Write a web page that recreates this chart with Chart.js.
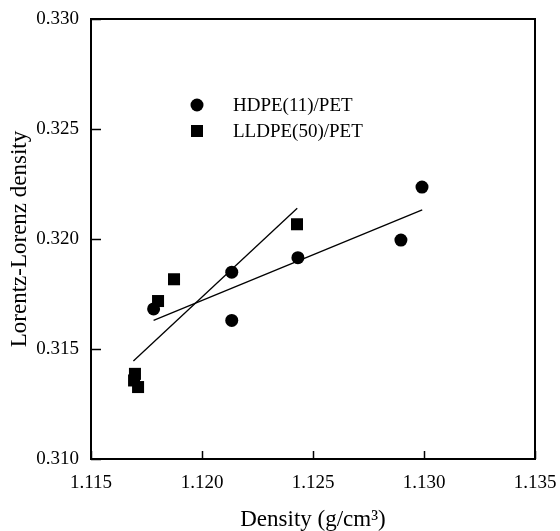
<!DOCTYPE html>
<html>
<head>
<meta charset="utf-8">
<script src="https://cdn.jsdelivr.net/npm/chart.js@4.4.0/dist/chart.umd.min.js"></script>
<style>
  html, body { margin: 0; padding: 0; background: #fff; }
  #wrap { width: 560px; height: 531px; position: relative; }
</style>
</head>
<body>
<div id="wrap"><canvas id="lineChart"></canvas></div>
<script>
'use strict';

// data
let hdpe_x = [1.11782, 1.12134, 1.12134, 1.12432, 1.12896, 1.12991]
let hdpe_y = [0.31682, 0.31849, 0.31630, 0.31915, 0.31995, 0.32236]
let lldpe_x = [1.11698, 1.11694, 1.11712, 1.11802, 1.11874, 1.12428]
let lldpe_y = [0.31387, 0.31357, 0.31327, 0.31718, 0.31817, 0.32067]
// fitted lines (end points)
let hdpe_fit_x = [1.11782, 1.12992]
let hdpe_fit_y = [0.31630, 0.32132]
let lldpe_fit_x = [1.11691, 1.12429]
let lldpe_fit_y = [0.31445, 0.32140]

let x_ticks = [1.115, 1.120, 1.125, 1.130, 1.135]
let y_ticks = [0.310, 0.315, 0.320, 0.325, 0.330]
let legend_labels = ['HDPE(11)/PET', 'LLDPE(50)/PET']

const serif = "'Liberation Serif', 'Times New Roman', serif"

function pts(xs, ys) {
    let out = []
    for (let i = 0; i < xs.length; i++) out.push({x: xs[i], y: ys[i]})
    return out
}

// box, inward ticks and legend
const framePlugin = {
    id: 'frame',
    afterDraw(chart) {
        const ctx = chart.ctx
        const a = chart.chartArea
        const xs = chart.scales.x
        const ys = chart.scales.y
        ctx.save()
        ctx.strokeStyle = '#000'
        ctx.lineWidth = 1.5
        for (let v of x_ticks) {
            let p = Math.round(xs.getPixelForValue(v)) + 0.5
            ctx.beginPath(); ctx.moveTo(p, a.bottom); ctx.lineTo(p, a.bottom - 8); ctx.stroke()
        }
        for (let v of y_ticks) {
            let p = Math.round(ys.getPixelForValue(v)) + 0.5
            ctx.beginPath(); ctx.moveTo(a.left, p); ctx.lineTo(a.left + 10, p); ctx.stroke()
        }
        ctx.lineWidth = 2
        ctx.strokeRect(a.left, a.top, a.right - a.left, a.bottom - a.top)

        // legend
        ctx.fillStyle = '#000'
        ctx.beginPath(); ctx.arc(197, 105, 6.5, 0, Math.PI * 2); ctx.fill()
        ctx.fillRect(191, 125, 12, 12)
        ctx.font = '19px ' + serif
        ctx.textAlign = 'left'
        ctx.textBaseline = 'middle'
        ctx.fillText(legend_labels[0], 233, 106)
        ctx.fillText(legend_labels[1], 233, 132)
        ctx.restore()
    }
}

let data_1 = {
    datasets: [
        {
            label: legend_labels[0],
            data: pts(hdpe_x, hdpe_y),
            showLine: false,
            pointStyle: 'circle',
            pointRadius: 6.5,
            backgroundColor: '#000',
            borderColor: '#000',
            borderWidth: 0
        },
        {
            label: legend_labels[1],
            data: pts(lldpe_x, lldpe_y),
            showLine: false,
            pointStyle: 'rect',
            pointRadius: 8.5,
            backgroundColor: '#000',
            borderColor: '#000',
            borderWidth: 0
        },
        {
            data: pts(hdpe_fit_x, hdpe_fit_y),
            showLine: true,
            pointRadius: 0,
            borderColor: '#000',
            borderWidth: 1.3
        },
        {
            data: pts(lldpe_fit_x, lldpe_fit_y),
            showLine: true,
            pointRadius: 0,
            borderColor: '#000',
            borderWidth: 1.3
        }
    ]
}

let options = {
    responsive: true,
    maintainAspectRatio: false,
    animation: false,
    layout: { padding: { left: 0, right: 25, top: 19, bottom: 0 } },
    plugins: {
        legend: { display: false },
        tooltip: { enabled: false }
    },
    scales: {
        x: {
            type: 'linear',
            min: 1.115,
            max: 1.135,
            afterBuildTicks: function (s) { s.ticks = x_ticks.map(v => ({value: v})) },
            afterFit: function (s) { s.height = 72; s.paddingLeft = 0; s.paddingRight = 0 },
            grid: { display: false, drawTicks: false },
            border: { display: false },
            ticks: {
                color: '#000',
                padding: 13,
                font: { family: serif, size: 19 },
                callback: v => v.toFixed(3)
            },
            title: {
                display: true,
                text: 'Density (g/cm³)',
                color: '#000',
                font: { family: serif, size: 23, lineHeight: 1 },
                padding: { top: 0, bottom: 0 }
            }
        },
        y: {
            type: 'linear',
            min: 0.310,
            max: 0.330,
            afterBuildTicks: function (s) { s.ticks = y_ticks.map(v => ({value: v})) },
            afterFit: function (s) { s.width = 91; s.paddingTop = 0; s.paddingBottom = 0 },
            grid: { display: false, drawTicks: false },
            border: { display: false },
            ticks: {
                color: '#000',
                padding: 12,
                font: { family: serif, size: 19 },
                callback: v => v.toFixed(3)
            },
            title: {
                display: true,
                text: 'Lorentz-Lorenz density',
                color: '#000',
                font: { family: serif, size: 23, lineHeight: 1 },
                padding: { top: 8, bottom: 0 }
            }
        }
    }
}

let lineChartCanvas = document.getElementById('lineChart').getContext('2d')
let lineChart = new Chart(lineChartCanvas, {
    type: 'scatter',
    data: data_1,
    options: options,
    plugins: [framePlugin]
})
</script>
</body>
</html>
